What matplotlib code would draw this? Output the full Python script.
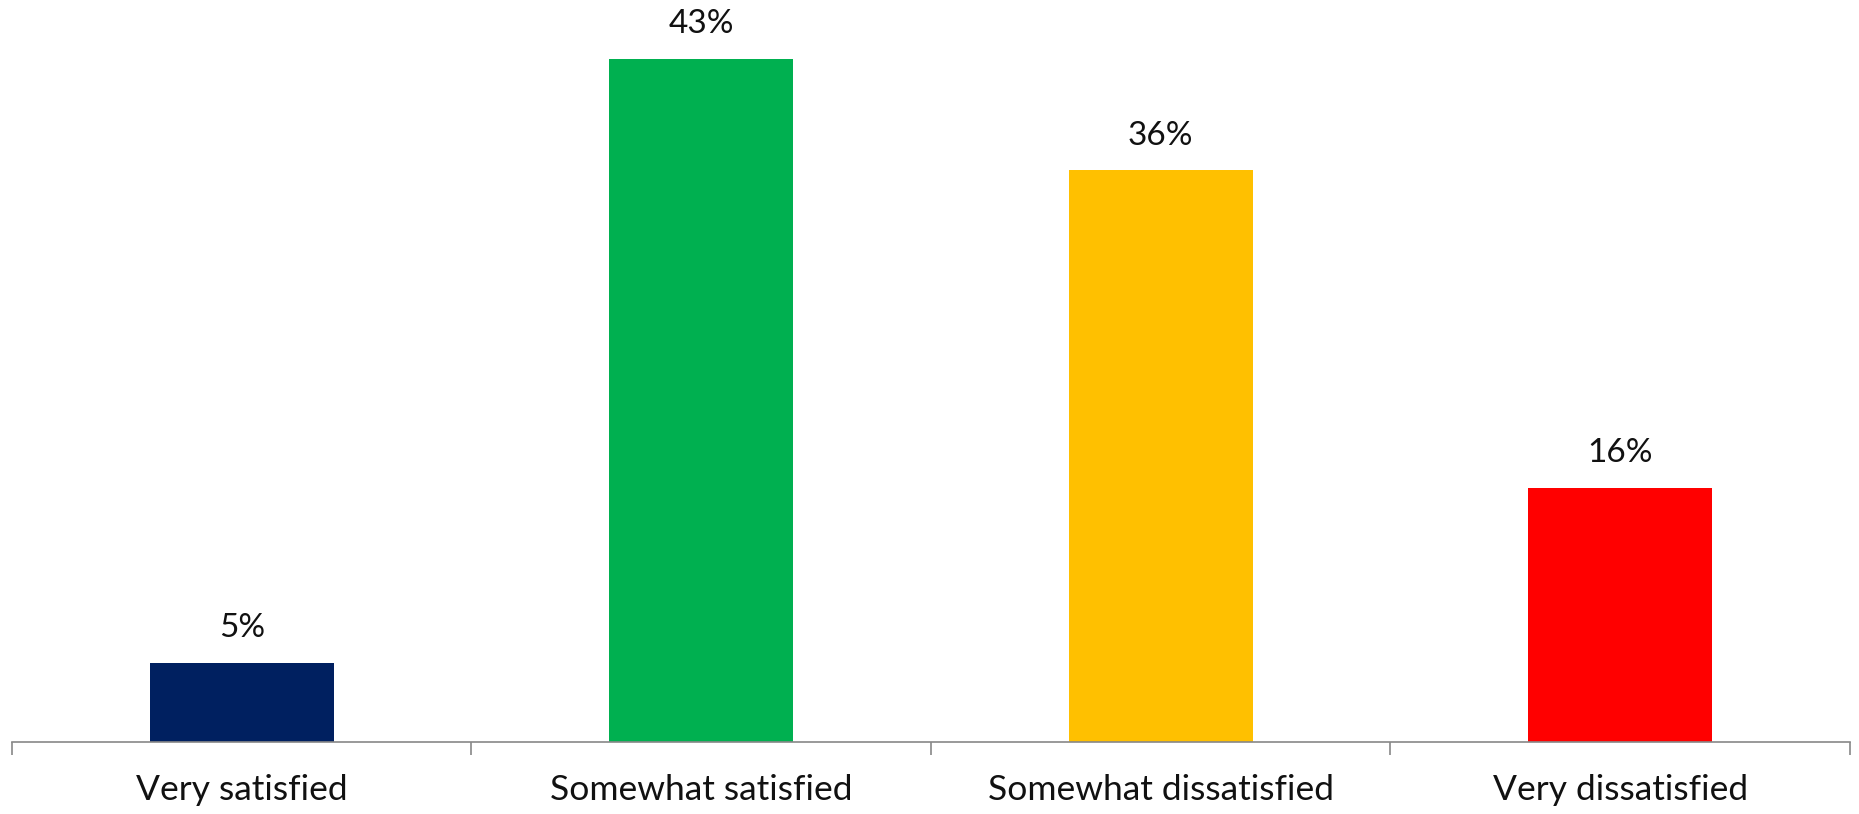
import matplotlib
matplotlib.use("Agg")
import matplotlib.pyplot as plt
import numpy as np

categories = ["Very satisfied", "Somewhat satisfied", "Somewhat dissatisfied", "Very dissatisfied"]
shares = [5, 43, 36, 16]
bar_colors = ["#002060", "#00B050", "#FFC000", "#FF0000"]

plt.rcParams['font.family'] = ['Lato', 'DejaVu Sans']

fig = plt.figure(figsize=(18.59, 8.14), dpi=100)
ax = fig.add_axes([12 / 1859, 72 / 814, 1838 / 1859, 742 / 814])

x = np.arange(len(categories)) + 0.5
ax.bar(x, shares, width=0.4, color=bar_colors)

# value labels above each bar
for xi, v in zip(x, shares):
    ax.annotate("%d%%" % v, (xi, v), xytext=(0, 14), textcoords="offset points",
                ha="center", va="bottom", fontsize=24, color="#111111")

ax.set_xlim(0, 4)
ax.set_ylim(0, 46.7)

# category boundaries get the tick marks, names sit between them
ax.set_xticks(np.arange(5))
ax.set_xticklabels([])
ax.set_xticks(x, minor=True)
ax.set_xticklabels(categories, minor=True, fontsize=25.5, color="#111111")
ax.tick_params(axis="x", which="major", direction="out", length=9.5, width=1.2, color="#888888")
ax.tick_params(axis="x", which="minor", length=0, pad=23)
ax.set_yticks([])

for side in ["left", "right", "top"]:
    ax.spines[side].set_visible(False)
ax.spines["bottom"].set_color("#888888")
ax.spines["bottom"].set_linewidth(1.2)

fig.savefig("out.png", dpi=100)
